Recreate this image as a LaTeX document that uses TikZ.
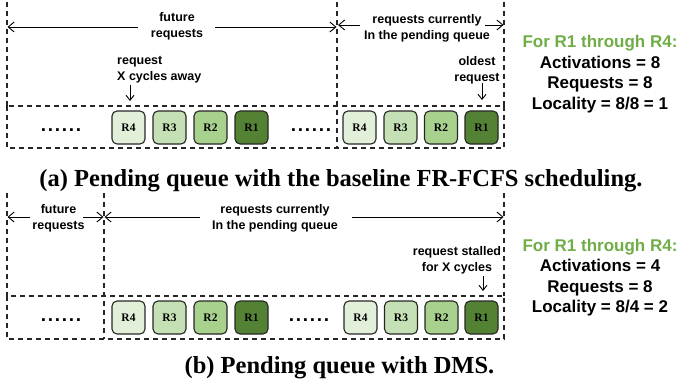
\documentclass[tikz,border=0pt]{standalone}
\usepackage{fontspec}
\setmainfont{Liberation Serif}
\setsansfont{Liberation Sans}
\usetikzlibrary{arrows.meta}
\definecolor{gD}{HTML}{E2F0D9}
\definecolor{gC}{HTML}{C5E0B4}
\definecolor{gB}{HTML}{A9D18E}
\definecolor{gA}{HTML}{548235}
\definecolor{gtxt}{HTML}{70AD47}
\definecolor{edge}{HTML}{262626}
\newcommand{\sixdots}{.\kern1.7pt.\kern1.7pt.\kern1.7pt.\kern1.7pt.\kern1.7pt.}
\tikzset{
  dsh/.style={draw=edge, dash pattern=on 5pt off 4pt, line width=1.1pt},
  arr/.style={-{Straight Barb[length=6pt,width=10pt]}, line width=0.9pt},
  arrsm/.style={-{Straight Barb[length=5pt,width=8pt]}, line width=0.9pt},
  rq/.style={draw=edge, line width=1.1pt, rounded corners=5pt, minimum width=33pt,
    minimum height=33pt, inner sep=0pt, font=\bfseries\fontsize{11.5}{12}\selectfont},
  lbl/.style={font=\sffamily\bfseries\fontsize{12.5}{16}\selectfont, align=center, inner sep=0pt},
  statbox/.style={font=\sffamily\bfseries\fontsize{17}{20.5}\selectfont, align=center, inner sep=0pt},
  captext/.style={font=\bfseries\fontsize{24.5}{28}\selectfont, inner sep=0pt, anchor=base},
  dotsrow/.style={font=\sffamily\bfseries\fontsize{19}{20}\selectfont, anchor=base, inner sep=0pt}
}
\begin{document}
\begin{tikzpicture}[x=1pt,y=-1pt]
\useasboundingbox (0,0) rectangle (679,385);

% ---------------- panel (a) ----------------
\draw[dsh] (7,2) -- (7,106);
\draw[dsh] (337,2) -- (337,148);
\draw[dsh] (504,2) -- (504,106);
\draw[dsh] (7,106) rectangle (504,148);

\node[lbl] (fA) at (177,26) {future\\requests};
\node[lbl] (rcA) at (427,28) {requests currently\\In the pending queue};
\coordinate (fAs1) at (138,27); \coordinate (fAe1) at (7.5,27);
\coordinate (fAs2) at (215,27); \coordinate (fAe2) at (336.5,27);
\coordinate (rcAs1) at (360,25); \coordinate (rcAe1) at (338,25);
\coordinate (rcAs2) at (485,25); \coordinate (rcAe2) at (503.5,25);
\draw[arr] (fAs1) -- (fAe1);
\draw[arr] (fAs2) -- (fAe2);
\draw[arr] (rcAs1) -- (rcAe1);
\draw[arr] (rcAs2) -- (rcAe2);

\node[lbl, align=left, anchor=west] (reqA) at (117,70) {request\\X cycles away};
\node[lbl] (oldA) at (477,70) {oldest\\request};
\coordinate (reqAs) at (130,85); \coordinate (reqAe) at (130,101);
\coordinate (oldAs) at (482,83); \coordinate (oldAe) at (482,100);
\draw[arrsm] (reqAs) -- (reqAe);
\draw[arrsm] (oldAs) -- (oldAe);

\node[dotsrow] (dA1) at (61,131) {\sixdots};
\node[dotsrow] (dA2) at (311,131) {\sixdots};
\node[rq, fill=gD] (a4) at (128.5,127.5) {R4};
\node[rq, fill=gC] (a3) at (169.5,127.5) {R3};
\node[rq, fill=gB] (a2) at (210.5,127.5) {R2};
\node[rq, fill=gA] (a1) at (251.5,127.5) {R1};
\node[rq, fill=gD] (a8) at (359.5,127.5) {R4};
\node[rq, fill=gC] (a7) at (400.5,127.5) {R3};
\node[rq, fill=gB] (a6) at (441,127.5) {R2};
\node[rq, fill=gA] (a5) at (481.5,127.5) {R1};

\node[statbox] (statA) at (600,74) {\textcolor{gtxt}{For R1 through R4:}\\Activations = 8\\Requests = 8\\Locality = 8/8 = 1};

\node[captext] (capA) at (341,186) {(a) Pending queue with the baseline FR-FCFS scheduling.};

% ---------------- panel (b) ----------------
\draw[dsh] (7,193) -- (7,296);
\draw[dsh] (104,193) -- (104,339);
\draw[dsh] (504,193) -- (504,296);
\draw[dsh] (7,296) rectangle (504,339);

\node[lbl] (fB) at (58.5,218) {future\\requests};
\node[lbl] (rcB) at (275,218) {requests currently\\In the pending queue};
\coordinate (fBs1) at (30,217); \coordinate (fBe1) at (7.5,217);
\coordinate (fBs2) at (83,217); \coordinate (fBe2) at (103.5,217);
\coordinate (rcBs1) at (200,217); \coordinate (rcBe1) at (104.5,217);
\coordinate (rcBs2) at (352,217); \coordinate (rcBe2) at (503.5,217);
\draw[arr] (fBs1) -- (fBe1);
\draw[arr] (fBs2) -- (fBe2);
\draw[arr] (rcBs1) -- (rcBe1);
\draw[arr] (rcBs2) -- (rcBe2);

\node[lbl] (stB) at (457,260) {request stalled\\for X cycles};
\coordinate (stBs) at (483,276); \coordinate (stBe) at (483,291);
\draw[arrsm] (stBs) -- (stBe);

\node[dotsrow] (dB1) at (61,321) {\sixdots};
\node[dotsrow] (dB2) at (309,321) {\sixdots};
\node[rq, fill=gD] (b4) at (128.5,317.5) {R4};
\node[rq, fill=gC] (b3) at (169.5,317.5) {R3};
\node[rq, fill=gB] (b2) at (210.5,317.5) {R2};
\node[rq, fill=gA] (b1) at (251.5,317.5) {R1};
\node[rq, fill=gD] (b8) at (360.5,317.5) {R4};
\node[rq, fill=gC] (b7) at (401,317.5) {R3};
\node[rq, fill=gB] (b6) at (441.5,317.5) {R2};
\node[rq, fill=gA] (b5) at (481.5,317.5) {R1};

\node[statbox] (statB) at (600,277.5) {\textcolor{gtxt}{For R1 through R4:}\\Activations = 4\\Requests = 8\\Locality = 8/4 = 2};

\node[captext] (capB) at (339.5,373) {(b) Pending queue with DMS.};
\end{tikzpicture}
\end{document}
